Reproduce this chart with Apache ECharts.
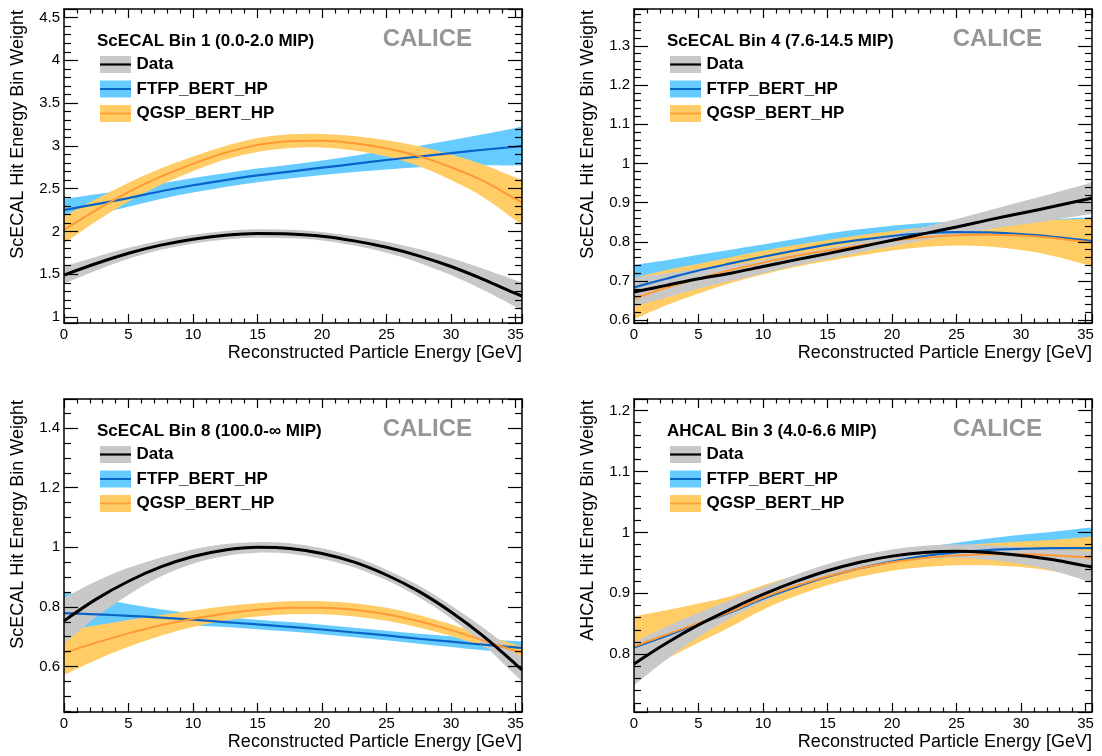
<!DOCTYPE html>
<html><head><meta charset="utf-8">
<script src="https://cdn.jsdelivr.net/npm/echarts@6/dist/echarts.min.js"></script>
<style>html,body{margin:0;padding:0;background:#fff}#c{width:1102px;height:756px}</style>
</head><body><div id="c"></div>
<script>
// ---------- data ----------
const energies = [0,2.5,5,7.5,10,12.5,15,17.5,20,22.5,25,27.5,30,32.5,35,35.5];

// Panel 1: ScECAL Bin 1
const p1DataVal = [1.49,1.625,1.745,1.84,1.91,1.955,1.975,1.97,1.945,1.89,1.815,1.715,1.59,1.44,1.275,1.245];
const p1DataErr = [0.10,0.08,0.065,0.055,0.05,0.05,0.05,0.05,0.05,0.055,0.065,0.08,0.10,0.125,0.155,0.16];
const p1FtfpVal = [2.25,2.32,2.39,2.47,2.54,2.60,2.655,2.70,2.745,2.79,2.835,2.875,2.915,2.955,2.99,3.0];
const p1FtfpErr = [0.13,0.115,0.10,0.09,0.085,0.08,0.08,0.08,0.085,0.095,0.11,0.125,0.15,0.18,0.22,0.23];
const p1QgspVal = [2.02,2.25,2.46,2.64,2.79,2.92,3.01,3.055,3.06,3.03,2.97,2.88,2.75,2.59,2.38,2.34];
const p1QgspErr = [0.16,0.13,0.11,0.095,0.085,0.08,0.08,0.08,0.08,0.085,0.095,0.115,0.15,0.19,0.25,0.27];

// Panel 2: ScECAL Bin 4
const p2DataVal = [0.672,0.689,0.706,0.72,0.737,0.754,0.77,0.787,0.804,0.821,0.838,0.856,0.873,0.89,0.908,0.912];
const p2DataErr = [0.037,0.031,0.025,0.02,0.017,0.015,0.014,0.014,0.015,0.017,0.02,0.024,0.029,0.034,0.039,0.04];
const p2FtfpVal = [0.684,0.706,0.727,0.745,0.762,0.778,0.793,0.805,0.815,0.822,0.825,0.824,0.82,0.813,0.804,0.802];
const p2FtfpErr = [0.057,0.047,0.04,0.035,0.031,0.029,0.028,0.027,0.026,0.026,0.027,0.03,0.036,0.045,0.058,0.061];
const p2QgspVal = [0.655,0.683,0.706,0.728,0.747,0.764,0.778,0.791,0.803,0.812,0.817,0.818,0.816,0.81,0.8,0.798];
const p2QgspErr = [0.053,0.045,0.038,0.033,0.03,0.028,0.027,0.026,0.025,0.025,0.026,0.03,0.037,0.046,0.058,0.062];

// Panel 3: ScECAL Bin 8
const p3DataVal = [0.753,0.826,0.886,0.934,0.969,0.991,1.0,0.996,0.979,0.95,0.907,0.852,0.783,0.702,0.608,0.588];
const p3DataErr = [0.077,0.06,0.045,0.032,0.024,0.02,0.018,0.018,0.018,0.018,0.018,0.02,0.022,0.028,0.038,0.04];
const p3FtfpVal = [0.779,0.775,0.77,0.764,0.757,0.749,0.741,0.733,0.724,0.714,0.704,0.693,0.683,0.673,0.664,0.662];
const p3FtfpErr = [0.072,0.055,0.04,0.028,0.02,0.017,0.016,0.016,0.016,0.016,0.016,0.017,0.018,0.019,0.021,0.022];
const p3QgspVal = [0.645,0.68,0.711,0.738,0.76,0.778,0.79,0.797,0.797,0.79,0.775,0.752,0.722,0.687,0.652,0.645];
const p3QgspErr = [0.073,0.058,0.045,0.035,0.028,0.024,0.022,0.022,0.022,0.022,0.022,0.021,0.02,0.02,0.022,0.023];

// Panel 4: AHCAL Bin 3
const p4DataVal = [0.784,0.818,0.848,0.874,0.898,0.919,0.937,0.951,0.961,0.967,0.969,0.967,0.962,0.955,0.945,0.943];
const p4DataErr = [0.035,0.027,0.02,0.015,0.012,0.011,0.011,0.011,0.011,0.011,0.011,0.012,0.014,0.018,0.024,0.025];
const p4FtfpVal = [0.811,0.83,0.85,0.869,0.891,0.91,0.927,0.941,0.952,0.961,0.967,0.971,0.973,0.974,0.974,0.974];
const p4FtfpErr = [0.04,0.032,0.025,0.02,0.016,0.013,0.012,0.012,0.013,0.014,0.016,0.019,0.023,0.027,0.033,0.034];
const p4QgspVal = [0.813,0.832,0.851,0.87,0.893,0.912,0.928,0.941,0.951,0.958,0.962,0.964,0.964,0.962,0.959,0.958];
const p4QgspErr = [0.049,0.04,0.032,0.025,0.02,0.017,0.015,0.014,0.014,0.015,0.016,0.018,0.021,0.026,0.033,0.035];

const panelTitles = ['ScECAL Bin 1 (0.0-2.0 MIP)','ScECAL Bin 4 (7.6-14.5 MIP)','ScECAL Bin 8 (100.0-\u221E MIP)','AHCAL Bin 3 (4.0-6.6 MIP)'];
const yTitles = ['ScECAL Hit Energy Bin Weight','ScECAL Hit Energy Bin Weight','ScECAL Hit Energy Bin Weight','AHCAL Hit Energy Bin Weight'];
const xTitle = 'Reconstructed Particle Energy [GeV]';
const legendNames = ['Data','FTFP_BERT_HP','QGSP_BERT_HP'];
const watermark = 'CALICE';
const yMin = [0.93, 0.593, 0.447, 0.705];
const yMax = [4.6, 1.394, 1.498, 1.219];
const yStep = [0.5, 0.1, 0.2, 0.1];
const xMin = 0, xMax = 35.5, xStep = 5;

// ---------- layout / style ----------
const FONT = '"Liberation Sans", Arial, Helvetica, sans-serif';
const grids = [
  {left:64, top:9, width:458, height:314},
  {left:634, top:9, width:458, height:314},
  {left:64, top:399, width:458, height:313},
  {left:634, top:399, width:458, height:313}
];
const ySplit = [7, 8, 6, 5];
const yMinorSplit = [5, 5, 4, 5];
const COL = {
  dataBand:'#c8c8c8', dataLine:'#000000',
  ftfpBand:'#66ccff', ftfpLine:'#0a64c8',
  qgspBand:'#ffcc66', qgspLine:'#ff9933'
};
const panels = [
  {data:[p1DataVal,p1DataErr], ftfp:[p1FtfpVal,p1FtfpErr], qgsp:[p1QgspVal,p1QgspErr]},
  {data:[p2DataVal,p2DataErr], ftfp:[p2FtfpVal,p2FtfpErr], qgsp:[p2QgspVal,p2QgspErr]},
  {data:[p3DataVal,p3DataErr], ftfp:[p3FtfpVal,p3FtfpErr], qgsp:[p3QgspVal,p3QgspErr]},
  {data:[p4DataVal,p4DataErr], ftfp:[p4FtfpVal,p4FtfpErr], qgsp:[p4QgspVal,p4QgspErr]}
];

function isMultiple(v, step){ const r = v/step; return Math.abs(r - Math.round(r)) < 1e-6; }
function fmt(v){ return String(+v.toFixed(4)); }
// Catmull-Rom through screen points (already mapped by the axes) -> cubic bezier path segments
function splinePath(pts){
  let s = '';
  for (let k = 0; k < pts.length-1; k++){
    const p0 = pts[Math.max(k-1,0)], p1 = pts[k], p2 = pts[k+1], p3 = pts[Math.min(k+2,pts.length-1)];
    const t = 1/6;
    const c1 = [p1[0]+(p2[0]-p0[0])*t, p1[1]+(p2[1]-p0[1])*t];
    const c2 = [p2[0]-(p3[0]-p1[0])*t, p2[1]-(p3[1]-p1[1])*t];
    s += ' C' + c1.join(',') + ' ' + c2.join(',') + ' ' + p2.join(',');
  }
  return s;
}

const xAxes = [], yAxes = [], series = [], graphics = [];
const SM = 0.35;

grids.forEach((g, i) => {
  ['bottom','top'].forEach(pos => {
    xAxes.push({
      type:'value', gridIndex:i, position:pos, min:xMin, max:xMax, splitNumber:7,
      axisLine:{show:true, onZero:false, lineStyle:{color:'#000', width:1.5}},
      axisTick:{show:true, inside:true, length:9, lineStyle:{color:'#000', width:1.2}},
      minorTick:{show:true, splitNumber:5, length:4.5, lineStyle:{color:'#000', width:1.2}},
      splitLine:{show:false}, minorSplitLine:{show:false}, z:5,
      axisLabel: pos==='bottom' ? {show:true, margin:4, fontSize:15, color:'#000', fontFamily:FONT,
        formatter: v => isMultiple(v, xStep) ? fmt(v) : ''} : {show:false}
    });
  });
  ['left','right'].forEach(pos => {
    yAxes.push({
      type:'value', gridIndex:i, position:pos, min:yMin[i], max:yMax[i], splitNumber:ySplit[i],
      axisLine:{show:true, onZero:false, lineStyle:{color:'#000', width:1.5}},
      axisTick:{show:true, inside:true, length:14, lineStyle:{color:'#000', width:1.2}},
      minorTick:{show:true, splitNumber:yMinorSplit[i], length:7, lineStyle:{color:'#000', width:1.2}},
      splitLine:{show:false}, minorSplitLine:{show:false}, z:5,
      axisLabel: pos==='left' ? {show:true, margin:4, fontSize:15, color:'#000', fontFamily:FONT,
        formatter: v => isMultiple(v, yStep[i]) ? fmt(v) : ''} : {show:false}
    });
  });

  const p = panels[i];
  const ax = {xAxisIndex:2*i, yAxisIndex:2*i};
  function band(vals, errs, color){
    series.push(Object.assign({type:'custom', silent:true, animation:false, z:2,
      data:[[energies[0], vals[0]]],
      renderItem: (params, api) => {
        const up = energies.map((x,k) => api.coord([x, vals[k]+errs[k]]));
        const lo = energies.map((x,k) => api.coord([x, vals[k]-errs[k]])).reverse();
        const d = 'M' + up[0].join(',') + splinePath(up) + ' L' + lo[0].join(',') + splinePath(lo) + ' Z';
        const cs = params.coordSys;
        return {type:'group', children:[{type:'path', shape:{pathData:d}, style:{fill:color, stroke:null}}],
          clipPath:{type:'rect', shape:{x:cs.x, y:cs.y, width:cs.width, height:cs.height}}};
      }}, ax));
  }
  function curve(vals, color, w){
    series.push(Object.assign({type:'line', data:energies.map((x,k)=>[x, vals[k]]), smooth:SM, symbol:'none',
      showSymbol:false, lineStyle:{color:color, width:w}, silent:true, animation:false, z:3}, ax));
  }
  band(p.ftfp[0], p.ftfp[1], COL.ftfpBand);
  band(p.qgsp[0], p.qgsp[1], COL.qgspBand);
  band(p.data[0], p.data[1], COL.dataBand);
  curve(p.ftfp[0], COL.ftfpLine, 2.2);
  curve(p.qgsp[0], COL.qgspLine, 2);
  curve(p.data[0], COL.dataLine, 3);

  // texts & legend
  const gx = g.left, gy = g.top;
  const T = (x, y, text, font, fill, align, extra) => Object.assign({type:'text', x:x, y:y, z:100,
    style:{text:text, font:font, fill:fill, align:align, verticalAlign:'middle', textAlign:align, textVerticalAlign:'middle'}}, extra||{});
  graphics.push(T(gx-45.5, gy+1, yTitles[i], '18px '+FONT, '#000', 'right', {rotation:Math.PI/2}));
  graphics.push(T(gx+g.width, gy+g.height+30, xTitle, '18px '+FONT, '#000', 'right'));
  graphics.push(T(gx+33, gy+32, panelTitles[i], 'bold 17px '+FONT, '#000', 'left'));
  graphics.push(T(gx+g.width-50, gy+30, watermark, 'bold 24px '+FONT, '#969696', 'right'));
  const legCols = [[COL.dataBand, COL.dataLine, 2.2],[COL.ftfpBand, COL.ftfpLine, 2],[COL.qgspBand, COL.qgspLine, 1.6]];
  const legY = [55.5, 80, 104.5];
  legCols.forEach((c, k) => {
    const cy = gy + legY[k];
    graphics.push({type:'rect', z:100, shape:{x:gx+36, y:cy-8.5, width:31, height:17}, style:{fill:c[0]}});
    graphics.push({type:'line', z:101, shape:{x1:gx+36, y1:cy, x2:gx+67, y2:cy}, style:{stroke:c[1], lineWidth:c[2]}});
    graphics.push(T(gx+72.5, cy, legendNames[k], 'bold 17px '+FONT, '#000', 'left'));
  });
});

const chart = echarts.init(document.getElementById('c'), null, {renderer:'canvas'});
chart.setOption({
  animation:false,
  backgroundColor:'#fff',
  textStyle:{fontFamily:FONT},
  grid: grids.map(g => Object.assign({containLabel:false}, g)),
  xAxis: xAxes, yAxis: yAxes, series: series, graphic: graphics
});
</script></body></html>
